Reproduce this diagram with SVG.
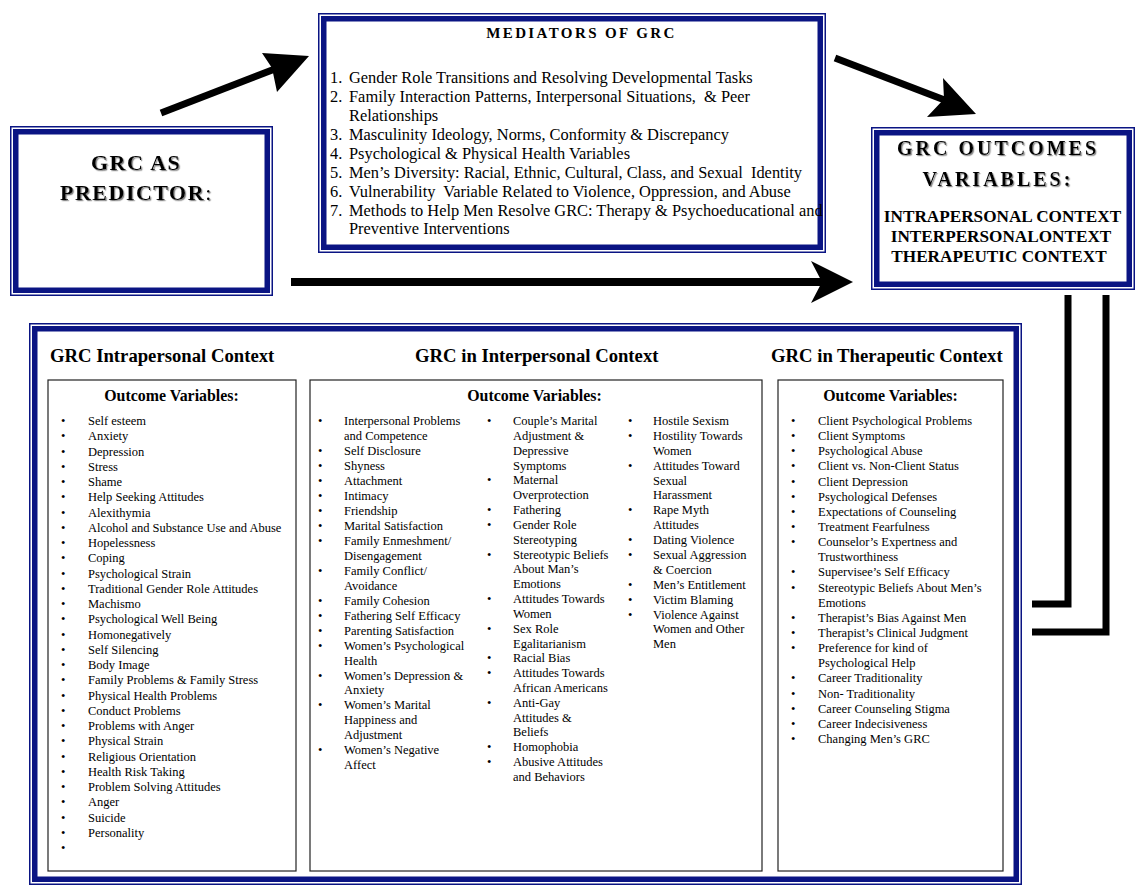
<svg xmlns="http://www.w3.org/2000/svg" width="1146" height="894" viewBox="0 0 1146 894">
<style>
.thin{fill:none;stroke:#0a1483;stroke-width:1.5}
.band{fill:none;stroke:#0a1483;stroke-width:5.5}
.ib{fill:#fff;stroke:#222;stroke-width:1.2}
.ser{font-family:"Liberation Serif","Times New Roman",serif;fill:#000}
.ttl{font-family:"Liberation Serif","Times New Roman",serif;font-weight:bold;fill:#000;filter:url(#sh)}
.med{font-family:"Liberation Serif","Times New Roman",serif;font-size:16.4px;fill:#000;white-space:pre}
.li{font-family:"Liberation Serif","Times New Roman",serif;font-size:12.5px;fill:#000}
.hd{font-family:"Liberation Serif","Times New Roman",serif;font-weight:bold;font-size:18.7px;fill:#000}
.ov{font-family:"Liberation Serif","Times New Roman",serif;font-weight:bold;font-size:15.9px;fill:#000;text-anchor:middle}
.ctx{font-family:"Liberation Serif","Times New Roman",serif;font-weight:bold;font-size:17.2px;fill:#000;text-anchor:middle}
.shaft{stroke:#000;fill:none}
</style>
<defs>
<filter id="sh" x="-10%" y="-20%" width="130%" height="150%">
<feDropShadow dx="1.2" dy="1.2" stdDeviation="0.4" flood-color="#8a8a8a" flood-opacity="1"/>
</filter>
</defs>
<rect width="1146" height="894" fill="#fff"/>

<g id="connectors">
<line class="shaft" x1="161" y1="113" x2="280" y2="67" stroke-width="7"/>
<polygon points="309,56 262,53 272,68 277,92" fill="#000"/>
<line class="shaft" x1="835" y1="58" x2="955" y2="104" stroke-width="7"/>
<polygon points="976,114 943,78 944,99 927,117" fill="#000"/>
<line class="shaft" x1="291" y1="282" x2="825" y2="282" stroke-width="8"/>
<polygon points="853,282 811,261 822,282 811,303" fill="#000"/>
<polyline points="1068,295 1068,604 1032,604" fill="none" stroke="#000" stroke-width="7"/>
<polyline points="1106,295 1106,632 1032,632" fill="none" stroke="#000" stroke-width="7"/>
</g>

<g id="predictor">
<rect class="thin" x="10.75" y="126.75" width="261.5" height="168.5"/>
<rect class="band" x="15.75" y="131.75" width="251.5" height="158.5"/>
<text class="ttl" x="91" y="170" font-size="22" letter-spacing="1.5">GRC AS</text>
<text class="ttl" x="60" y="200" font-size="22" letter-spacing="1.5">PREDICTOR<tspan font-weight="normal" letter-spacing="0">:</tspan></text>
</g>

<g id="mediators">
<rect class="thin" x="318.75" y="13.75" width="506.5" height="238.5"/>
<rect class="band" x="323.75" y="18.75" width="496.5" height="228.5"/>
<text class="ser" x="581.5" y="38" font-size="15" font-weight="bold" letter-spacing="2.4" text-anchor="middle">MEDIATORS OF GRC</text>
<text class="med" x="330" y="83">1.</text><text class="med" x="349" y="83">Gender Role Transitions and Resolving Developmental Tasks</text>
<text class="med" x="330" y="102">2.</text><text class="med" x="349" y="102" xml:space="preserve">Family Interaction Patterns, Interpersonal Situations,  &amp; Peer</text>
<text class="med" x="349" y="121">Relationships</text>
<text class="med" x="330" y="140">3.</text><text class="med" x="349" y="140">Masculinity Ideology, Norms, Conformity &amp; Discrepancy</text>
<text class="med" x="330" y="159">4.</text><text class="med" x="349" y="159">Psychological &amp; Physical Health Variables</text>
<text class="med" x="330" y="178">5.</text><text class="med" x="349" y="178" xml:space="preserve">Men’s Diversity: Racial, Ethnic, Cultural, Class, and Sexual  Identity</text>
<text class="med" x="330" y="197">6.</text><text class="med" x="349" y="197" xml:space="preserve">Vulnerability  Variable Related to Violence, Oppression, and Abuse</text>
<text class="med" x="330" y="216">7.</text><text class="med" x="349" y="216">Methods to Help Men Resolve GRC: Therapy &amp; Psychoeducational and</text>
<text class="med" x="349" y="234">Preventive Interventions</text>
</g>

<g id="outcomes">
<rect class="thin" x="871.75" y="127.75" width="262.5" height="161.5"/>
<rect class="band" x="876.75" y="132.75" width="252.5" height="151.5"/>
<text class="ttl" x="998" y="155" font-size="20" letter-spacing="3" text-anchor="middle">GRC OUTCOMES</text>
<text class="ttl" x="998" y="186" font-size="20" letter-spacing="3" text-anchor="middle">VARIABLES:</text>
<text class="ctx" x="1002.5" y="222">INTRAPERSONAL CONTEXT</text>
<text class="ctx" x="1001" y="242">INTERPERSONALONTEXT</text>
<text class="ctx" x="999" y="262">THERAPEUTIC CONTEXT</text>
</g>

<g id="contexts">
<rect class="thin" x="29.75" y="323.75" width="991.5" height="560.5"/>
<rect class="band" x="34.75" y="328.75" width="981.5" height="550.5"/>
<text class="hd" x="50" y="362">GRC Intrapersonal Context</text>
<text class="hd" x="415" y="362">GRC in Interpersonal Context</text>
<text class="hd" x="771" y="362">GRC in Therapeutic Context</text>
</g>

<g id="intrapersonal">
<rect class="ib" x="48" y="380" width="248" height="491"/>
<text class="ov" x="171.5" y="401">Outcome Variables:</text>
<g class="li">
<text x="61" y="425">•</text><text x="88" y="425">Self esteem</text>
<text x="61" y="440.25">•</text><text x="88" y="440.25">Anxiety</text>
<text x="61" y="455.5">•</text><text x="88" y="455.5">Depression</text>
<text x="61" y="470.75">•</text><text x="88" y="470.75">Stress</text>
<text x="61" y="486">•</text><text x="88" y="486">Shame</text>
<text x="61" y="501.25">•</text><text x="88" y="501.25">Help Seeking Attitudes</text>
<text x="61" y="516.5">•</text><text x="88" y="516.5">Alexithymia</text>
<text x="61" y="531.75">•</text><text x="88" y="531.75">Alcohol and Substance Use and Abuse</text>
<text x="61" y="547">•</text><text x="88" y="547">Hopelessness</text>
<text x="61" y="562.25">•</text><text x="88" y="562.25">Coping</text>
<text x="61" y="577.5">•</text><text x="88" y="577.5">Psychological Strain</text>
<text x="61" y="592.75">•</text><text x="88" y="592.75">Traditional Gender Role Attitudes</text>
<text x="61" y="608">•</text><text x="88" y="608">Machismo</text>
<text x="61" y="623.25">•</text><text x="88" y="623.25">Psychological Well Being</text>
<text x="61" y="638.5">•</text><text x="88" y="638.5">Homonegatively</text>
<text x="61" y="653.75">•</text><text x="88" y="653.75">Self Silencing</text>
<text x="61" y="669">•</text><text x="88" y="669">Body Image</text>
<text x="61" y="684.25">•</text><text x="88" y="684.25">Family Problems &amp; Family Stress</text>
<text x="61" y="699.5">•</text><text x="88" y="699.5">Physical Health Problems</text>
<text x="61" y="714.75">•</text><text x="88" y="714.75">Conduct Problems</text>
<text x="61" y="730">•</text><text x="88" y="730">Problems with Anger</text>
<text x="61" y="745.25">•</text><text x="88" y="745.25">Physical Strain</text>
<text x="61" y="760.5">•</text><text x="88" y="760.5">Religious Orientation</text>
<text x="61" y="775.75">•</text><text x="88" y="775.75">Health Risk Taking</text>
<text x="61" y="791">•</text><text x="88" y="791">Problem Solving Attitudes</text>
<text x="61" y="806.25">•</text><text x="88" y="806.25">Anger</text>
<text x="61" y="821.5">•</text><text x="88" y="821.5">Suicide</text>
<text x="61" y="836.75">•</text><text x="88" y="836.75">Personality</text>
<text x="61" y="852">•</text>
</g>
</g>

<g id="interpersonal">
<rect class="ib" x="310" y="380" width="452" height="491"/>
<text class="ov" x="534.5" y="401">Outcome Variables:</text>
<g class="li">
<text x="318" y="425">•</text><text x="344" y="425">Interpersonal Problems</text>
<text x="344" y="440">and Competence</text>
<text x="318" y="455">•</text><text x="344" y="455">Self Disclosure</text>
<text x="318" y="470">•</text><text x="344" y="470">Shyness</text>
<text x="318" y="485">•</text><text x="344" y="485">Attachment</text>
<text x="318" y="500">•</text><text x="344" y="500">Intimacy</text>
<text x="318" y="515">•</text><text x="344" y="515">Friendship</text>
<text x="318" y="530">•</text><text x="344" y="530">Marital Satisfaction</text>
<text x="318" y="545">•</text><text x="344" y="545">Family Enmeshment/</text>
<text x="344" y="560">Disengagement</text>
<text x="318" y="575">•</text><text x="344" y="575">Family Conflict/</text>
<text x="344" y="590">Avoidance</text>
<text x="318" y="605">•</text><text x="344" y="605">Family Cohesion</text>
<text x="318" y="620">•</text><text x="344" y="620">Fathering Self Efficacy</text>
<text x="318" y="635">•</text><text x="344" y="635">Parenting Satisfaction</text>
<text x="318" y="649.5">•</text><text x="344" y="649.5">Women’s Psychological</text>
<text x="344" y="664.5">Health</text>
<text x="318" y="679.5">•</text><text x="344" y="679.5">Women’s Depression &amp;</text>
<text x="344" y="694">Anxiety</text>
<text x="318" y="709">•</text><text x="344" y="709">Women’s Marital</text>
<text x="344" y="724">Happiness and</text>
<text x="344" y="739">Adjustment</text>
<text x="318" y="754">•</text><text x="344" y="754">Women’s Negative</text>
<text x="344" y="769">Affect</text>

<text x="487" y="425">•</text><text x="513" y="425">Couple’s Marital</text>
<text x="513" y="440">Adjustment &amp;</text>
<text x="513" y="454.5">Depressive</text>
<text x="513" y="469.5">Symptoms</text>
<text x="487" y="484">•</text><text x="513" y="484">Maternal</text>
<text x="513" y="499">Overprotection</text>
<text x="487" y="514">•</text><text x="513" y="514">Fathering</text>
<text x="487" y="529">•</text><text x="513" y="529">Gender Role</text>
<text x="513" y="543.5">Stereotyping</text>
<text x="487" y="558.5">•</text><text x="513" y="558.5">Stereotypic Beliefs</text>
<text x="513" y="573">About Man’s</text>
<text x="513" y="588">Emotions</text>
<text x="487" y="603">•</text><text x="513" y="603">Attitudes Towards</text>
<text x="513" y="618">Women</text>
<text x="487" y="632.5">•</text><text x="513" y="632.5">Sex Role</text>
<text x="513" y="647.5">Egalitarianism</text>
<text x="487" y="662">•</text><text x="513" y="662">Racial Bias</text>
<text x="487" y="677">•</text><text x="513" y="677">Attitudes Towards</text>
<text x="513" y="692">African Americans</text>
<text x="487" y="706.5">•</text><text x="513" y="706.5">Anti-Gay</text>
<text x="513" y="721.5">Attitudes &amp;</text>
<text x="513" y="736">Beliefs</text>
<text x="487" y="751">•</text><text x="513" y="751">Homophobia</text>
<text x="487" y="766">•</text><text x="513" y="766">Abusive Attitudes</text>
<text x="513" y="781">and Behaviors</text>

<text x="628" y="425">•</text><text x="653" y="425">Hostile Sexism</text>
<text x="628" y="440">•</text><text x="653" y="440">Hostility Towards</text>
<text x="653" y="454.5">Women</text>
<text x="628" y="469.5">•</text><text x="653" y="469.5">Attitudes Toward</text>
<text x="653" y="484.5">Sexual</text>
<text x="653" y="499">Harassment</text>
<text x="628" y="514">•</text><text x="653" y="514">Rape Myth</text>
<text x="653" y="529">Attitudes</text>
<text x="628" y="544">•</text><text x="653" y="544">Dating Violence</text>
<text x="628" y="559">•</text><text x="653" y="559">Sexual Aggression</text>
<text x="653" y="573.5">&amp; Coercion</text>
<text x="628" y="588.5">•</text><text x="653" y="588.5">Men’s Entitlement</text>
<text x="628" y="603.5">•</text><text x="653" y="603.5">Victim Blaming</text>
<text x="628" y="618.5">•</text><text x="653" y="618.5">Violence Against</text>
<text x="653" y="633">Women and Other</text>
<text x="653" y="648">Men</text>
</g>
</g>

<g id="therapeutic">
<rect class="ib" x="778" y="380" width="225" height="491"/>
<text class="ov" x="890.5" y="401">Outcome Variables:</text>
<g class="li">
<text x="791" y="425">•</text><text x="818" y="425">Client Psychological Problems</text>
<text x="791" y="440">•</text><text x="818" y="440">Client Symptoms</text>
<text x="791" y="455.3">•</text><text x="818" y="455.3">Psychological Abuse</text>
<text x="791" y="470.4">•</text><text x="818" y="470.4">Client vs. Non-Client Status</text>
<text x="791" y="485.6">•</text><text x="818" y="485.6">Client Depression</text>
<text x="791" y="500.7">•</text><text x="818" y="500.7">Psychological Defenses</text>
<text x="791" y="515.8">•</text><text x="818" y="515.8">Expectations of Counseling</text>
<text x="791" y="531">•</text><text x="818" y="531">Treatment Fearfulness</text>
<text x="791" y="546.1">•</text><text x="818" y="546.1">Counselor’s Expertness and</text>
<text x="818" y="561.3">Trustworthiness</text>
<text x="791" y="576.4">•</text><text x="818" y="576.4">Supervisee’s Self Efficacy</text>
<text x="791" y="591.5">•</text><text x="818" y="591.5">Stereotypic Beliefs About Men’s</text>
<text x="818" y="606.7">Emotions</text>
<text x="791" y="621.8">•</text><text x="818" y="621.8">Therapist’s Bias Against Men</text>
<text x="791" y="637">•</text><text x="818" y="637">Therapist’s Clinical Judgment</text>
<text x="791" y="652.1">•</text><text x="818" y="652.1">Preference for kind of</text>
<text x="818" y="667.2">Psychological Help</text>
<text x="791" y="682.4">•</text><text x="818" y="682.4">Career Traditionality</text>
<text x="791" y="697.5">•</text><text x="818" y="697.5">Non- Traditionality</text>
<text x="791" y="712.7">•</text><text x="818" y="712.7">Career Counseling Stigma</text>
<text x="791" y="727.8">•</text><text x="818" y="727.8">Career Indecisiveness</text>
<text x="791" y="743">•</text><text x="818" y="743">Changing Men’s GRC</text>
</g>
</g>
</svg>
